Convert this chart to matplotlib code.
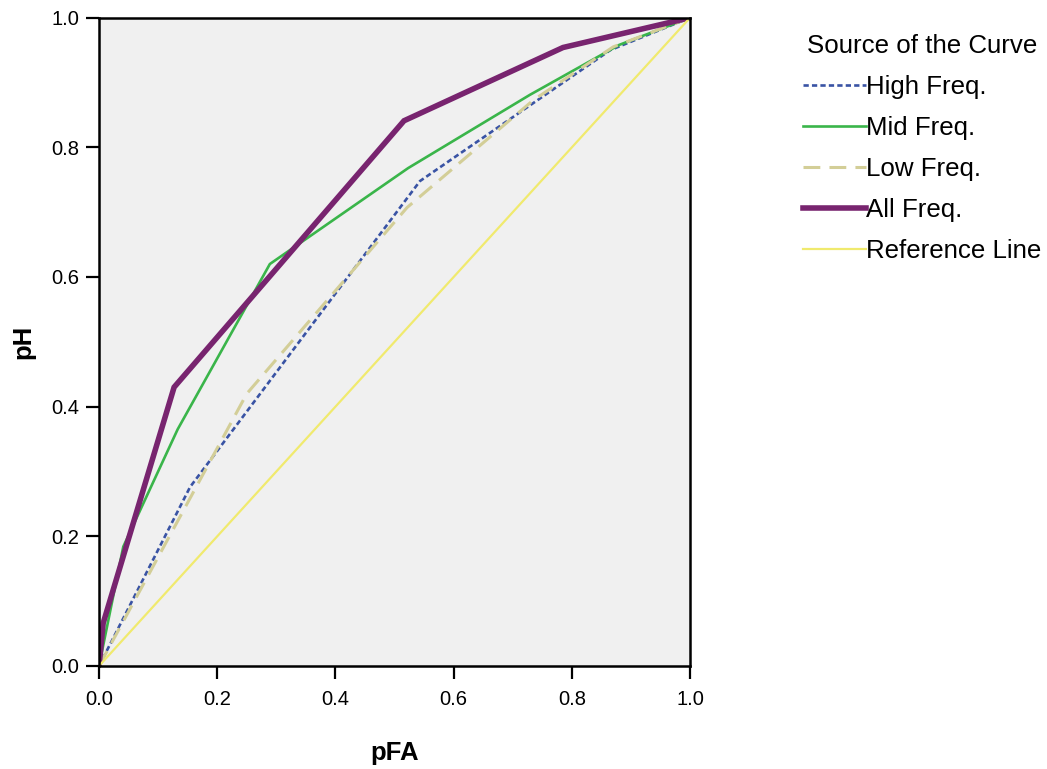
import matplotlib
matplotlib.use('Agg')
import matplotlib.pyplot as plt

plt.rcParams['font.family'] = ['Liberation Sans', 'DejaVu Sans']

# ROC curve points
high_fa = [0.0, 0.154, 0.543, 0.865, 1.0]
high_h = [0.0, 0.276, 0.748, 0.950, 1.0]

mid_fa = [0.0, 0.041, 0.133, 0.289, 0.523, 0.729, 0.88, 1.0]
mid_h = [0.0, 0.184, 0.365, 0.620, 0.768, 0.881, 0.958, 1.0]

low_fa = [0.0, 0.25, 0.521, 0.735, 0.87, 1.0]
low_h = [0.0, 0.42, 0.707, 0.873, 0.955, 1.0]

all_fa = [0.0, 0.007, 0.127, 0.516, 0.785, 1.0]
all_h = [0.0, 0.066, 0.43, 0.841, 0.954, 1.0]

ref = [0.0, 1.0]

ticks = [0.0, 0.2, 0.4, 0.6, 0.8, 1.0]

fig = plt.figure(figsize=(10.47, 7.69), dpi=100)
ax = fig.add_axes([0.0946, 0.134, 0.5645, 0.843])
ax.set_facecolor('#f0f0f0')

ax.plot(high_fa, high_h, color='#3953a4', lw=1.9, ls=(0, (2, 1.2)), label='High Freq.')
ax.plot(mid_fa, mid_h, color='#3ab54a', lw=1.9, label='Mid Freq.')
ax.plot(low_fa, low_h, color='#d3ce97', lw=2.2, ls=(0, (5.5, 3)), label='Low Freq.')
ax.plot(all_fa, all_h, color='#78246f', lw=4, label='All Freq.', solid_joinstyle='miter')
ax.plot(ref, ref, color='#f0ea6e', lw=1.6, label='Reference Line')

ax.set_xlim(0, 1)
ax.set_ylim(0, 1)
ax.set_xticks(ticks)
ax.set_yticks(ticks)
ax.set_xticklabels(['%.1f' % t for t in ticks])
ax.set_yticklabels(['%.1f' % t for t in ticks])
ax.tick_params(direction='out', length=9.5, width=1.6, labelsize=14.5)
ax.tick_params(axis='x', pad=8)
ax.tick_params(axis='y', pad=5)
for s in ax.spines.values():
    s.set_linewidth(1.8)

ax.set_xlabel('pFA', fontsize=18.5, fontweight='bold', labelpad=23)
ax.set_ylabel('pH', fontsize=18.5, fontweight='bold', labelpad=11)

leg = ax.legend(title='Source of the Curve', loc='upper left', bbox_to_anchor=(1.191, 0.975),
                frameon=False, fontsize=18.6, title_fontsize=18.6, handlelength=2.45,
                handletextpad=0.0, labelspacing=0.66, borderaxespad=0.0, borderpad=0.0)

fig.savefig('out.png', dpi=100)
